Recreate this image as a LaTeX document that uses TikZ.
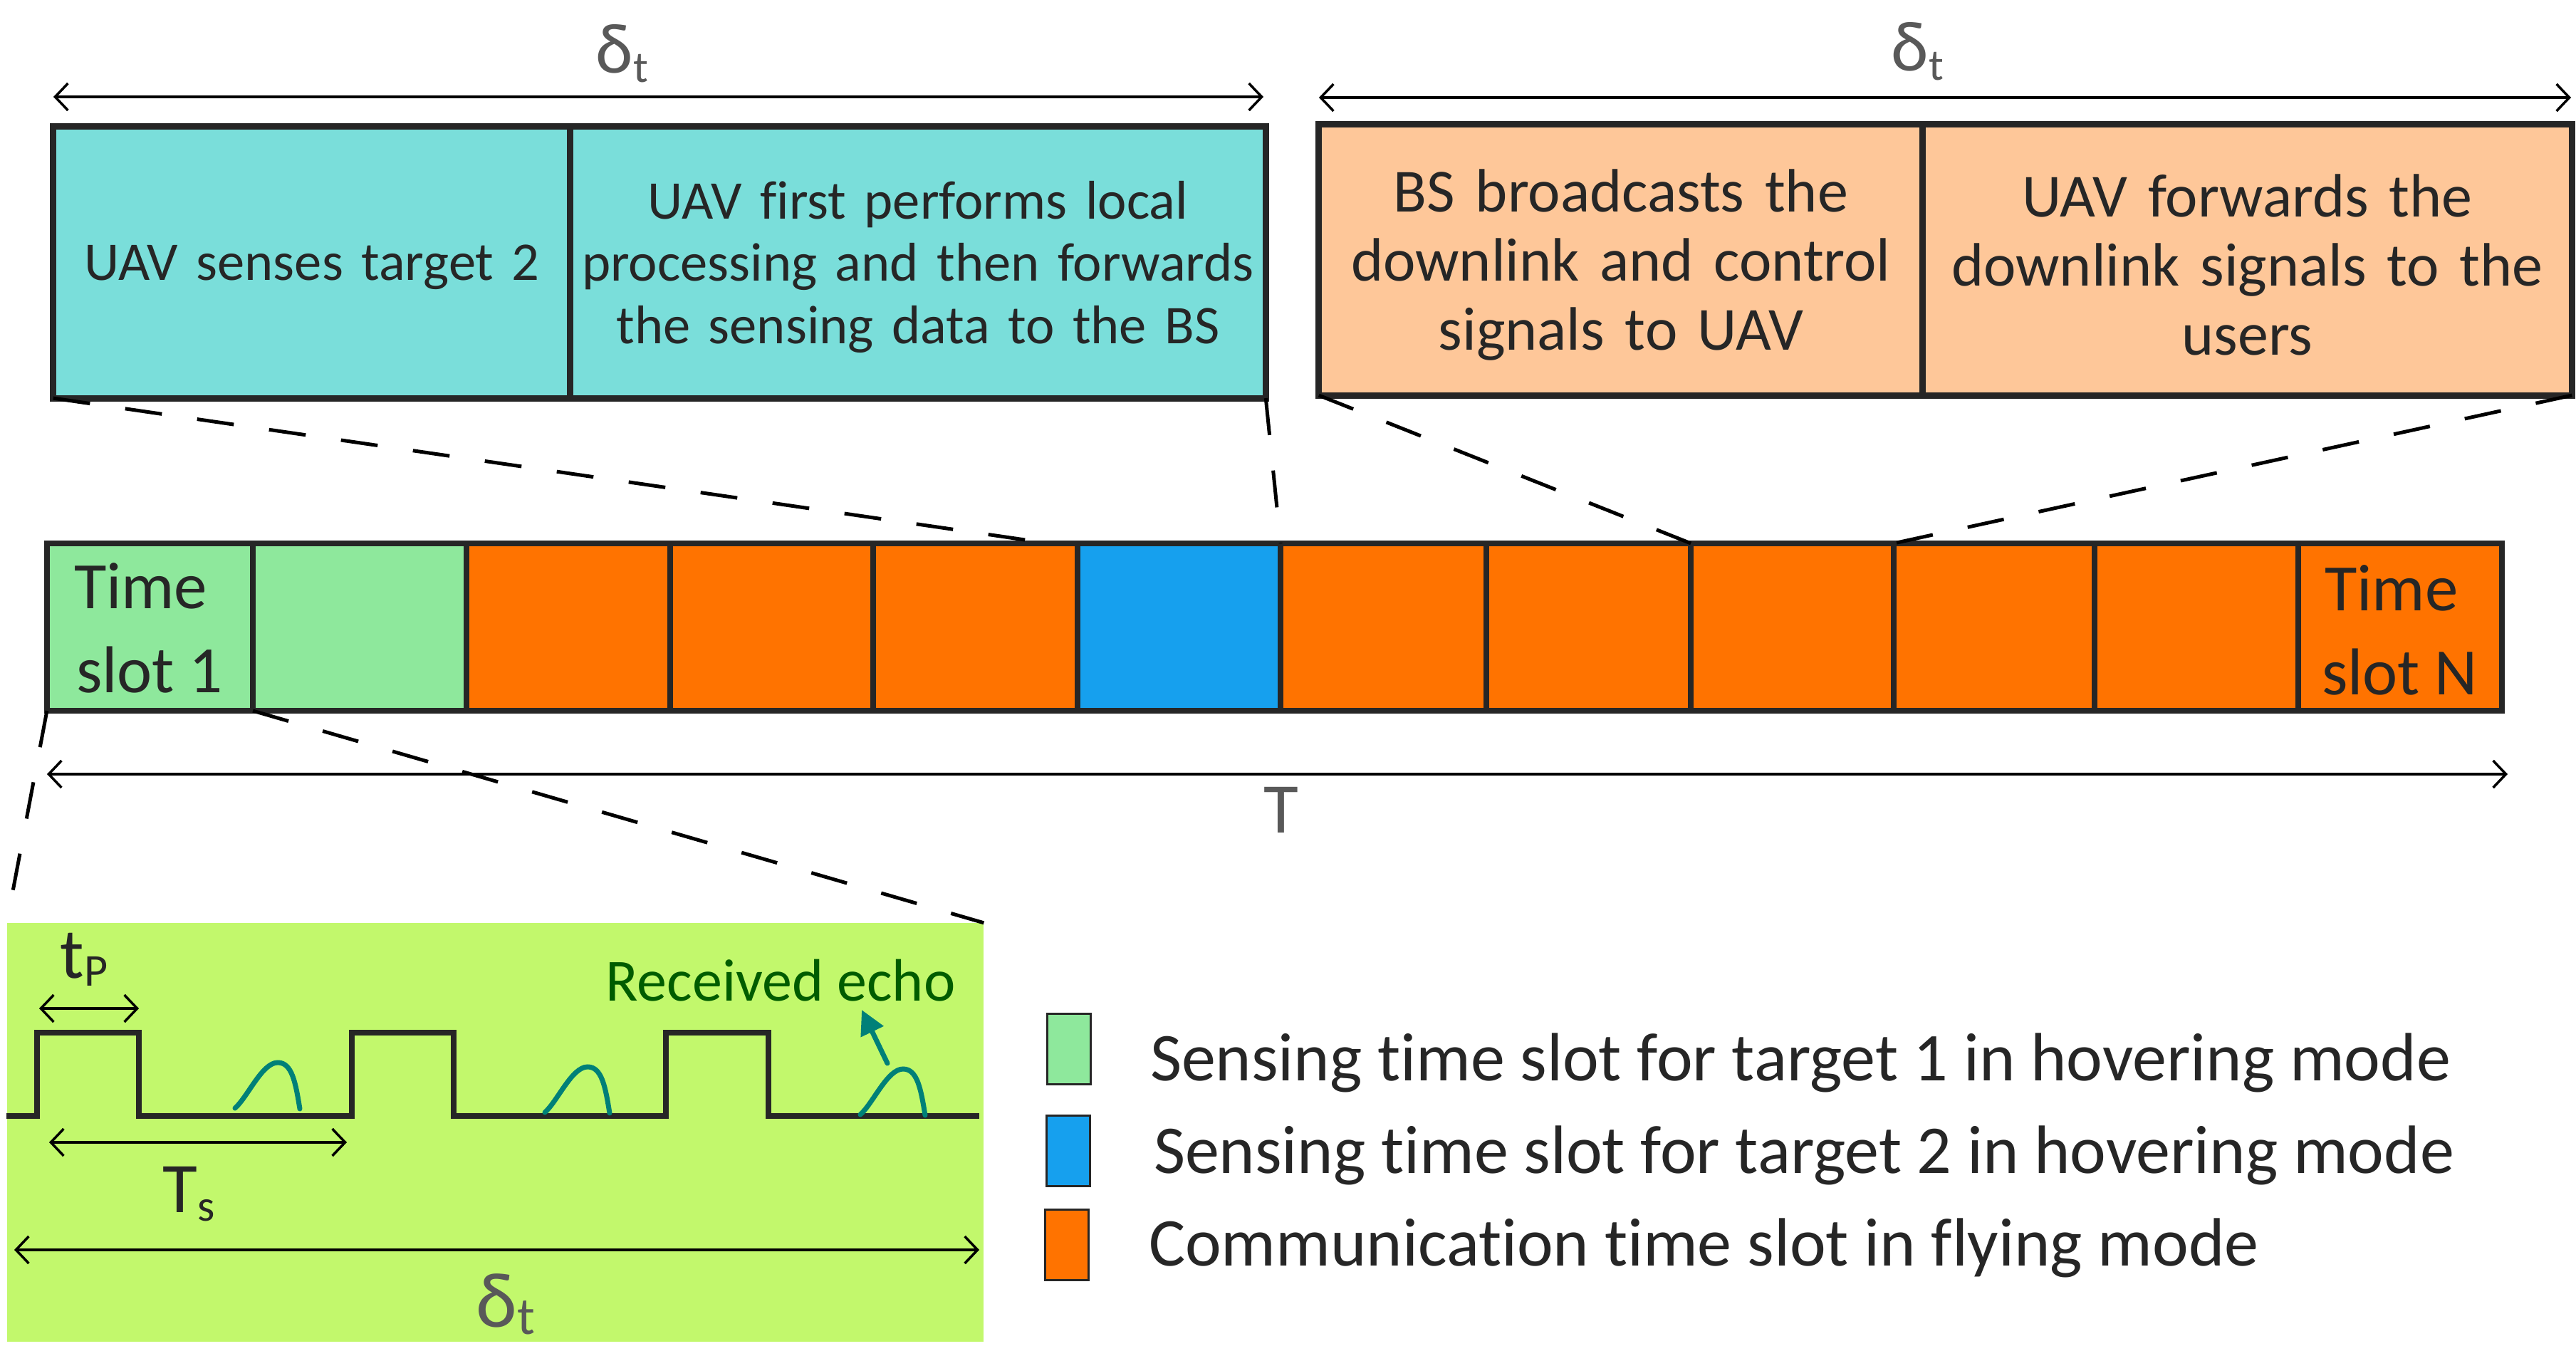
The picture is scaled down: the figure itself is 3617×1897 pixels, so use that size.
\documentclass[tikz,border=0pt]{standalone}
\usepackage{fontspec}
\setmainfont{Carlito}[Ligatures=NoCommon]
\usetikzlibrary{arrows.meta,calc}
\definecolor{ink}{HTML}{262626}
\definecolor{grayt}{HTML}{595959}
\definecolor{cyanbox}{HTML}{7ADEDA}
\definecolor{peach}{HTML}{FEC799}
\definecolor{sgreen}{HTML}{8EE89C}
\definecolor{sblue}{HTML}{16A0EE}
\definecolor{sorange}{HTML}{FF7300}
\definecolor{lime}{HTML}{C2F86C}
\definecolor{teal2}{HTML}{008078}
\definecolor{dgreen}{HTML}{005C00}
\newcommand{\deltat}[3]{{\fontsize{#1}{#1}\selectfont δ}\raisebox{-#3}{\fontsize{#2}{#2}\selectfont t}}
\begin{document}
\begin{tikzpicture}[x=0.01cm,y=-0.01cm,
  topbox/.style={draw=ink, line width=0.09cm, inner sep=0pt, outer sep=0pt},
  boxtext/.style={inner sep=0pt, outer sep=0pt, align=center, text=ink},
  slot/.style={draw=ink, line width=0.085cm, inner sep=0pt, outer sep=0pt, minimum height=2.35cm},
  slottext/.style={inner sep=0pt, outer sep=0pt, text=ink, font=\fontsize{0.93cm}{1.1cm}\selectfont},
  legbox/.style={draw=ink, line width=0.03cm, inner sep=0pt, outer sep=0pt, minimum width=0.6cm, minimum height=0.98cm},
  legtext/.style={inner sep=0pt, outer sep=0pt, text=ink, anchor=base west, font=\fontsize{0.96cm}{1.1cm}\selectfont},
  zoomline/.style={line width=0.05cm, dash pattern=on 0.52cm off 0.5cm},
  dim/.style={line width=0.035cm, {Straight Barb[length=0.18cm,width=0.38cm]}-{Straight Barb[length=0.18cm,width=0.38cm]}},
  wave/.style={draw=ink, line width=0.08cm, line join=miter},
  echoline/.style={draw=teal2, line width=0.07cm, line cap=round}
]
\useasboundingbox (0,0) rectangle (3617,1897);

% ---------- top boxes ----------
\node[topbox, fill=cyanbox, minimum width=7.26cm, minimum height=3.81cm] (a1) at (438,368.5) {};
\node[topbox, fill=cyanbox, minimum width=9.76cm, minimum height=3.81cm] (a2) at (1289,368.5) {};
\node[topbox, fill=peach, minimum width=8.48cm, minimum height=3.80cm] (b1) at (2276,365) {};
\node[topbox, fill=peach, minimum width=9.11cm, minimum height=3.80cm] (b2) at (3155.5,365) {};

\node[boxtext, text width=7.1cm, font=\fontsize{0.765cm}{0.87cm}\selectfont] (a1t) at (438,375) {UAV senses target 2};
\node[boxtext, text width=9.72cm, font=\fontsize{0.765cm}{0.87cm}\selectfont] (a2t) at (1289,375)
  {UAV first performs local\\processing and then forwards\\the sensing data to the BS};
\node[boxtext, text width=8.3cm, font=\fontsize{0.86cm}{0.97cm}\selectfont] (b1t) at (2276,372)
  {BS broadcasts the\\downlink and control\\signals to UAV};
\node[boxtext, text width=8.95cm, font=\fontsize{0.86cm}{0.97cm}\selectfont] (b2t) at (3155.5,372)
  {UAV forwards the\\downlink signals to the\\users};

% top delta arrows
\coordinate (da1) at (75,136);
\coordinate (da2) at (1774,136);
\coordinate (db1) at (1852,137);
\coordinate (db2) at (3610,137);
\draw[dim] (da1) -- (da2);
\draw[dim] (db1) -- (db2);
\node[anchor=base west, inner sep=0pt, text=grayt] (dla) at (836,103) {\deltat{1.0cm}{0.62cm}{0.12cm}};
\node[anchor=base west, inner sep=0pt, text=grayt] (dlb) at (2655,100) {\deltat{1.0cm}{0.62cm}{0.12cm}};

% ---------- timeline ----------
\node[slot, fill=sgreen,  minimum width=2.89cm] (s1)  at (210.5,880.5) {};
\node[slot, fill=sgreen,  minimum width=3.00cm] (s2)  at (505,880.5) {};
\node[slot, fill=sorange, minimum width=2.86cm] (s3)  at (798,880.5) {};
\node[slot, fill=sorange, minimum width=2.85cm] (s4)  at (1083.5,880.5) {};
\node[slot, fill=sorange, minimum width=2.87cm] (s5)  at (1369.5,880.5) {};
\node[slot, fill=sblue,   minimum width=2.85cm] (s6)  at (1655.5,880.5) {};
\node[slot, fill=sorange, minimum width=2.89cm] (s7)  at (1942.5,880.5) {};
\node[slot, fill=sorange, minimum width=2.87cm] (s8)  at (2230.5,880.5) {};
\node[slot, fill=sorange, minimum width=2.85cm] (s9)  at (2516.5,880.5) {};
\node[slot, fill=sorange, minimum width=2.82cm] (s10) at (2800,880.5) {};
\node[slot, fill=sorange, minimum width=2.86cm] (s11) at (3084,880.5) {};
\node[slot, fill=sorange, minimum width=2.86cm] (s12) at (3370,880.5) {};

\node[slottext, anchor=base west] (t1a) at (104,854) {Time};
\node[slottext, anchor=base west] (t1b) at (107,972) {slot 1};
\node[slottext, anchor=base west] (tNa) at (3264,857) {Time};
\node[slottext, anchor=base west] (tNb) at (3260,975) {slot N};

% T arrow
\coordinate (Ta) at (66,1087);
\coordinate (Tb) at (3521,1087);
\draw[dim] (Ta) -- (Tb);
\node[text=grayt, inner sep=0pt, font=\fontsize{1.0cm}{1.0cm}\selectfont] (Tl) at (1799,1137) {T};

% zoom lines from top boxes
\coordinate (c6) at ($(s6.north west)+(-40,0)$);
\draw[zoomline] (a1.south west) -- (c6);
\draw[zoomline] (a2.south east) -- (s6.north east);
\draw[zoomline] (b1.south west) -- (s8.north east);
\draw[zoomline] (b2.south east) -- (s9.north east);

% ---------- inset ----------
\node[fill=lime, inner sep=0pt, outer sep=0pt, minimum width=13.71cm, minimum height=5.88cm] (inset) at (695.5,1590) {};
\draw[zoomline] (s1.south west) -- (inset.north west);
\draw[zoomline] (s1.south east) -- (inset.north east);

\draw[wave] (9,1567) -- (52,1567) -- (52,1450) -- (195,1450) -- (195,1567)
  -- (494,1567) -- (494,1450) -- (637,1450) -- (637,1567)
  -- (935,1567) -- (935,1450) -- (1079,1450) -- (1079,1567) -- (1375,1567);

\foreach \dx/\dy in {0/0, 435/6, 878/9}{
  \begin{scope}[shift={(\dx,\dy)}]
    \draw[echoline] (330,1556) .. controls (348,1540) and (368,1492) .. (390,1492)
      .. controls (410,1492) and (415,1520) .. (421,1557);
  \end{scope}
}
\coordinate (ea) at (1246,1493);
\coordinate (eb) at (1210,1418);
\draw[echoline, -{Triangle[length=0.34cm,width=0.34cm]}] (ea) -- (eb);
\node[anchor=base west, inner sep=0pt, text=dgreen, font=\fontsize{0.84cm}{0.9cm}\selectfont] (rec) at (850,1405) {Received echo};

\coordinate (tp1) at (55,1416);
\coordinate (tp2) at (195,1416);
\draw[dim] (tp1) -- (tp2);
\node[anchor=base west, inner sep=0pt, text=ink] (tpl) at (84,1373)
  {{\fontsize{1.0cm}{1.0cm}\selectfont t}\raisebox{-0.11cm}{\fontsize{0.64cm}{0.64cm}\selectfont P}};

\coordinate (ts1) at (69,1604);
\coordinate (ts2) at (487,1604);
\draw[dim] (ts1) -- (ts2);
\node[anchor=base west, inner sep=0pt, text=ink] (tsl) at (228,1702)
  {{\fontsize{1.0cm}{1.0cm}\selectfont T}\raisebox{-0.12cm}{\fontsize{0.62cm}{0.62cm}\selectfont s}};

\coordinate (dd1) at (20,1755);
\coordinate (dd2) at (1375,1755);
\draw[dim] (dd1) -- (dd2);
\node[anchor=base west, inner sep=0pt, text=grayt] (dlc) at (668,1863) {\deltat{1.1cm}{0.74cm}{0.10cm}};

% ---------- legend ----------
\node[legbox, fill=sgreen]  (l1) at (1501,1473) {};
\node[legbox, fill=sblue]   (l2) at (1500,1616) {};
\node[legbox, fill=sorange] (l3) at (1498,1748) {};
\node[legtext] (lt1) at (1615,1517) {Sensing time slot for target 1 in hovering mode};
\node[legtext] (lt2) at (1620,1647) {Sensing time slot for target 2 in hovering mode};
\node[legtext] (lt3) at (1613,1777) {Communication time slot in flying mode};
\end{tikzpicture}
\end{document}
